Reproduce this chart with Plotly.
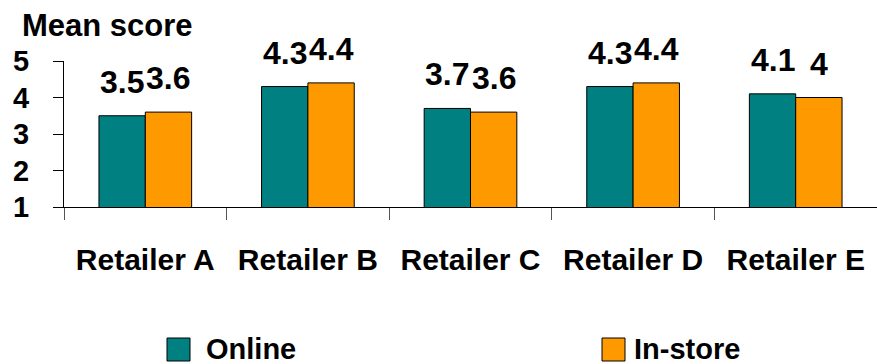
import plotly.graph_objects as go

# Mean satisfaction scores by retailer and shopping channel
retailers = ["Retailer A", "Retailer B", "Retailer C", "Retailer D", "Retailer E"]
online = [3.5, 4.3, 3.7, 4.3, 4.1]
in_store = [3.6, 4.4, 3.6, 4.4, 4.0]
series_names = ["Online", "In-store"]
y_ticks = [1, 2, 3, 4, 5]

TEAL = "#008080"
ORANGE = "#FF9900"
FONT = "Liberation Sans, Arial, sans-serif"

W, H = 877, 364
L, R, T, B = 64, 0, 61, 157
plot_w = W - L - R
plot_h = H - T - B
BARGAP = 0.43
bar_px = plot_w / len(retailers) * (1 - BARGAP) / 2


def px_x(p):
    return (p - L) / plot_w


def px_y(p):
    return (H - B - p) / plot_h


fig = go.Figure()
for name, vals, col in [(series_names[0], online, TEAL), (series_names[1], in_store, ORANGE)]:
    fig.add_bar(x=retailers, y=vals, name=name, marker=dict(color=col, line=dict(color="black", width=1)),
                showlegend=False)

annotations = []
for vals, shift in [(online, -bar_px / 2), (in_store, bar_px / 2)]:
    for cat, v in zip(retailers, vals):
        annotations.append(dict(x=cat, y=v, xref="x", yref="y", text=f"{v:g}", showarrow=False,
                                xshift=shift, yshift=14, yanchor="bottom",
                                font=dict(family=FONT, size=32, color="black", weight="bold")))

annotations.append(dict(x=px_x(20), y=px_y(6), xref="paper", yref="paper", xanchor="left", yanchor="top",
                        text="Mean score", showarrow=False,
                        font=dict(family=FONT, size=31, color="black", weight="bold")))

# Legend drawn as swatches with labels
shapes = []
for name, col, sx, tx in [(series_names[0], TEAL, 167, 204), (series_names[1], ORANGE, 602, 632)]:
    shapes.append(dict(type="rect", xref="paper", yref="paper", x0=px_x(sx), x1=px_x(sx + 23),
                       y0=px_y(361), y1=px_y(338), fillcolor=col, line=dict(color="black", width=1)))
    annotations.append(dict(x=px_x(tx), y=px_y(349), xref="paper", yref="paper", xanchor="left",
                            yanchor="middle", text=name, showarrow=False,
                            font=dict(family=FONT, size=29, color="black", weight="bold")))

fig.update_layout(
    width=W, height=H, margin=dict(l=L, r=R, t=T, b=B, autoexpand=False),
    paper_bgcolor="white", plot_bgcolor="white",
    barmode="group", bargap=BARGAP, bargroupgap=0,
    annotations=annotations, shapes=shapes,
    font=dict(family=FONT, color="black"),
)
fig.update_xaxes(showline=True, linecolor="black", linewidth=1, ticks="outside", tickson="boundaries",
                 ticklen=12, tickcolor="#555", showgrid=False, ticklabelstandoff=26, tickangle=0,
                 automargin=False,
                 tickfont=dict(family=FONT, size=30, color="black", weight="bold"))
fig.update_yaxes(range=[1, 5], tickvals=y_ticks, showline=True, linecolor="black", linewidth=1,
                 ticks="outside", ticklen=10, tickcolor="black", showgrid=False, zeroline=False,
                 ticklabelstandoff=18, automargin=False,
                 tickfont=dict(family=FONT, size=29, color="black", weight="bold"))

fig.write_html("out.html")
